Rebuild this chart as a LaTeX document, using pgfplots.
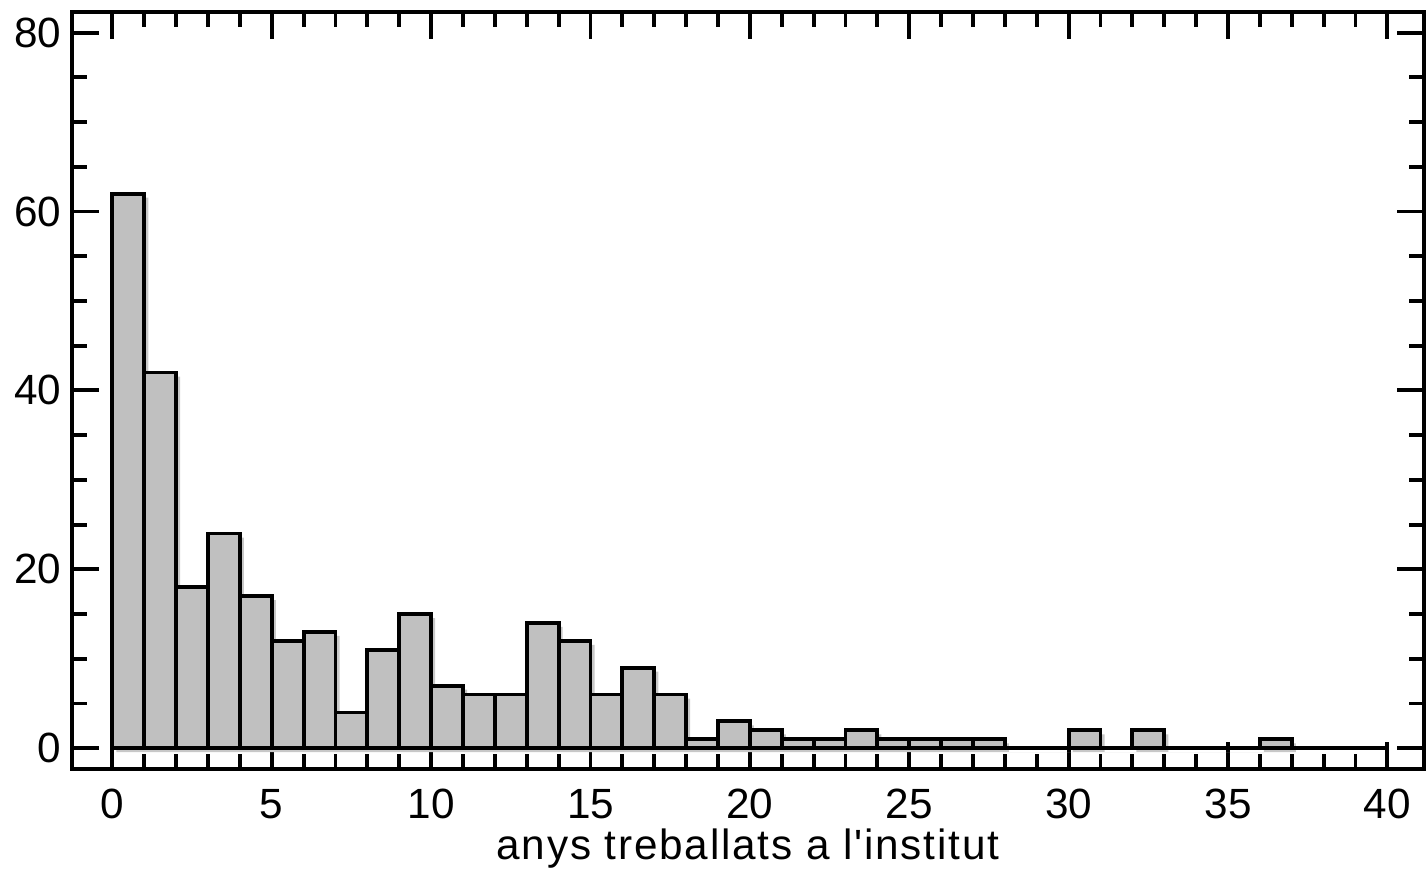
\documentclass[border=0pt]{standalone}
\usepackage{pgfplots}
\pgfplotsset{compat=1.18}
\usepackage{fontspec}
\setmainfont{Liberation Sans}[Ligatures=TeXOff]
\definecolor{barfill}{RGB}{192,192,192}
\definecolor{shadow}{RGB}{200,200,200}
\begin{document}
\fontsize{12}{14.5}\selectfont
\begin{tikzpicture}
\begin{axis}[
    scale only axis, width=134.9mm, height=75.5mm,
    xmin=-1.27, xmax=41.15, ymin=-2.3, ymax=82.3,
    xtick={0,5,...,40}, ytick={0,20,...,80},
    minor x tick num=4, minor y tick num=3,
    tick align=inside,
    major tick length=2.7mm, minor tick length=1.5mm,
    every tick/.style={line width=1.1pt, black},
    axis line style={line width=1.1pt},
    xticklabel style={anchor=base, yshift=-5mm},
    yticklabel style={xshift=0.4mm},
    /pgf/number format/assume math mode=true,
    xlabel={\addfontfeature{LetterSpace=4.3}anys treballats a l'institut},
    xlabel style={at={(axis description cs:0.5,0)}, anchor=base,
      yshift=-9mm, inner sep=0pt},
]
% shadow
\addplot[ybar interval, fill=shadow, draw=none, forget plot,
  transform canvas={xshift=0.4mm, yshift=-0.4mm}] coordinates {
(0,62)(1,42)(2,18)(3,24)(4,17)(5,12)(6,13)(7,4)(8,11)(9,15)
(10,7)(11,6)(12,6)(13,14)(14,12)(15,6)(16,9)(17,6)(18,1)(19,3)
(20,2)(21,1)(22,1)(23,2)(24,1)(25,1)(26,1)(27,1)(28,0)(29,0)
(30,2)(31,0)(32,2)(33,0)(34,0)(35,0)(36,1)(37,0)};
% baseline
\addplot[line width=1.1pt, black, forget plot] coordinates {(0,0)(40,0)};
% bars
\addplot[ybar interval, fill=barfill, draw=black, line width=1.1pt] coordinates {
(0,62)(1,42)(2,18)(3,24)(4,17)(5,12)(6,13)(7,4)(8,11)(9,15)
(10,7)(11,6)(12,6)(13,14)(14,12)(15,6)(16,9)(17,6)(18,1)(19,3)
(20,2)(21,1)(22,1)(23,2)(24,1)(25,1)(26,1)(27,1)(28,0)(29,0)
(30,2)(31,0)(32,2)(33,0)(34,0)(35,0)(36,1)(37,0)};
\end{axis}
\path (current axis.north) ++(0,1.2mm);
\path (current axis.outer south) ++(0,-1.1mm);
\end{tikzpicture}
\end{document}
